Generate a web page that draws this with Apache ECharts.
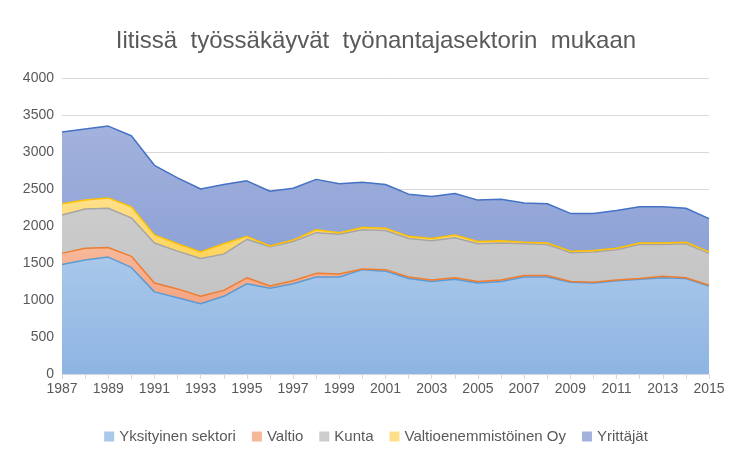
<!DOCTYPE html>
<html>
<head>
<meta charset="utf-8">
<script src="https://cdn.jsdelivr.net/npm/echarts@6/dist/echarts.min.js"></script>
<style>html,body{margin:0;padding:0;background:#fff}#chart{width:752px;height:471px}</style>
</head>
<body>
<div id="chart"></div>
<script>
var years = [];
for (var y = 1987; y <= 2015; y++) years.push(String(y));

var yksityinen = [1480,1540,1580,1440,1110,1030,950,1050,1220,1160,1220,1310,1310,1410,1390,1290,1250,1280,1230,1250,1310,1310,1240,1230,1260,1280,1300,1290,1190];
var valtio = [150,160,130,150,120,120,100,80,80,30,40,50,40,10,20,20,20,20,20,20,20,20,10,10,10,10,20,10,10];
var kunta = [520,530,530,520,540,510,510,490,520,530,530,550,540,530,530,520,530,540,510,500,430,420,390,410,410,460,430,460,430];
var valtioOy = [150,120,140,150,110,100,90,140,40,10,20,40,20,30,30,30,30,40,30,30,20,20,20,20,20,20,20,20,20];
var yrittajat = [970,960,970,960,940,890,850,800,750,740,700,680,660,610,590,570,570,560,560,560,530,530,510,500,510,490,490,460,450];

function grad(a, b) {
  return new echarts.graphic.LinearGradient(0, 0, 0, 1, [
    { offset: 0, color: a }, { offset: 1, color: b }
  ]);
}

function series(name, data, line, fillTop, fillBottom) {
  return {
    name: name,
    type: "line",
    stack: "total",
    symbol: "none",
    data: data,
    lineStyle: { color: line, width: 1.5 },
    itemStyle: { color: fillTop },
    areaStyle: { color: grad(fillTop, fillBottom), opacity: 1 }
  };
}

var chart = echarts.init(document.getElementById("chart"));
chart.setOption({
  animation: false,
  title: {
    text: "Iitissä  työssäkäyvät  työnantajasektorin  mukaan",
    left: "center",
    top: 24,
    textStyle: { fontFamily: "Liberation Sans", fontSize: 24, fontWeight: "normal", color: "#595959" }
  },
  legend: {
    bottom: 22,
    itemWidth: 10,
    itemHeight: 10,
    itemGap: 16,
    icon: "rect",
    textStyle: { fontFamily: "Liberation Sans", fontSize: 15, color: "#595959" }
  },
  grid: { left: 62, right: 43, top: 78, bottom: 97 },
  xAxis: {
    type: "category",
    boundaryGap: false,
    data: years,
    axisLine: { lineStyle: { color: "#d9d9d9" } },
    axisTick: { show: true, interval: 0, lineStyle: { color: "#d9d9d9" } },
    axisLabel: { interval: 1, color: "#595959", fontSize: 14, fontFamily: "Liberation Sans" }
  },
  yAxis: {
    type: "value",
    min: 0,
    max: 4000,
    interval: 500,
    axisLabel: {
      color: "#595959", fontSize: 14, fontFamily: "Liberation Sans",
      formatter: function (v) { return String(v); }
    },
    splitLine: { lineStyle: { color: "#d9d9d9" } }
  },
  series: [
    series("Yksityinen sektori", yksityinen, "#5b9bd5", "#a9c8ea", "#8db4e2"),
    series("Valtio", valtio, "#ed7d31", "#f7b89a", "#f4a582"),
    series("Kunta", kunta, "#a5a5a5", "#cccccc", "#c4c4c4"),
    series("Valtioenemmistöinen Oy", valtioOy, "#ffc000", "#ffe08a", "#ffd45c"),
    series("Yrittäjät", yrittajat, "#4472c4", "#a3b2dd", "#8ea2d6")
  ]
});
</script>
</body>
</html>
